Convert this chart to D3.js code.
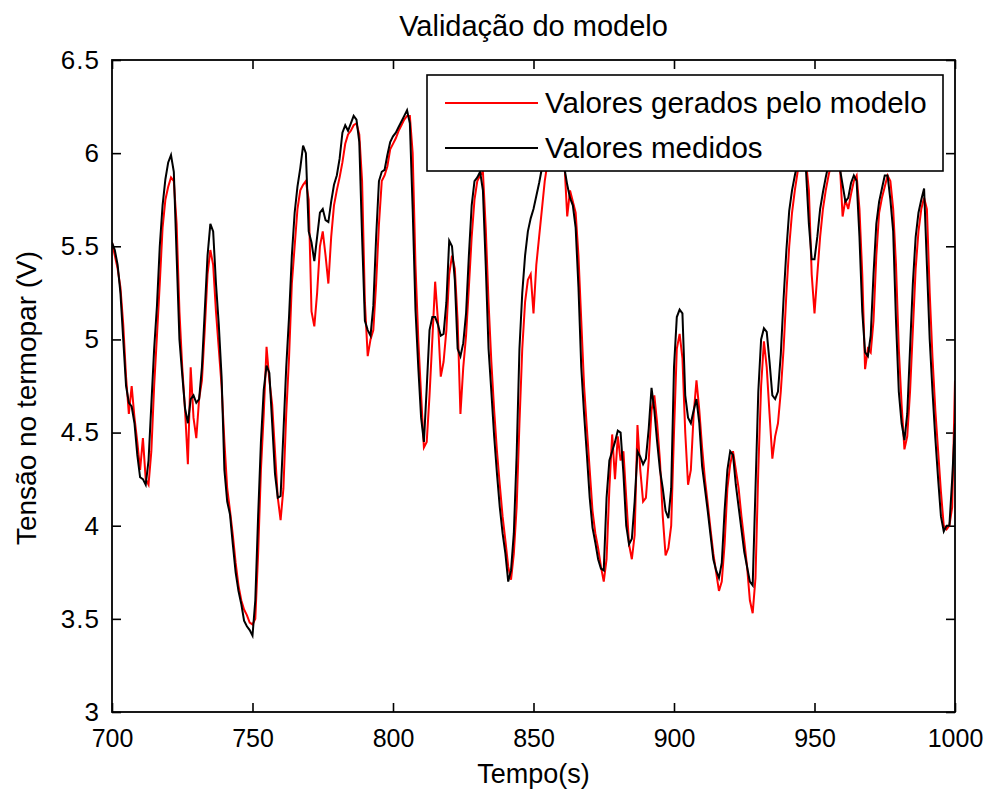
<!DOCTYPE html>
<html>
<head>
<meta charset="utf-8">
<script src="https://cdn.jsdelivr.net/npm/d3@7"></script>
<style>
  html, body { margin: 0; padding: 0; background: #fff; }
  svg { display: block; }
  text { font-family: "Liberation Sans", Arial, Helvetica, sans-serif; fill: #000; }
</style>
</head>
<body>
<svg id="chart" width="987" height="791"></svg>
<script>
// Sampling grid: one sample per second
const tStart = 700;
const tEnd = 1000;

// Thermocouple voltage (V), measured
const medidos = [
  5.52, 5.48, 5.40, 5.25, 5.00, 4.75, 4.66, 4.64, 4.55, 4.38, 4.26, 4.25, 4.22, 4.35, 4.65, 4.95, 5.18, 5.50,
  5.72, 5.86, 5.95, 5.99, 5.90, 5.45, 5.00, 4.81, 4.63, 4.55, 4.68, 4.70, 4.66, 4.68, 4.85, 5.15, 5.45, 5.62,
  5.58, 5.30, 5.08, 4.80, 4.30, 4.13, 4.06, 3.90, 3.75, 3.65, 3.58, 3.49, 3.46, 3.44, 3.41, 3.60, 4.05, 4.45,
  4.73, 4.86, 4.82, 4.55, 4.28, 4.15, 4.16, 4.50, 4.85, 5.12, 5.45, 5.68, 5.82, 5.92, 6.04, 6.00, 5.58, 5.52,
  5.42, 5.55, 5.68,
  5.70, 5.64, 5.63, 5.74, 5.83, 5.88, 5.97, 6.11, 6.15, 6.12, 6.16, 6.20, 6.18, 6.06, 5.55, 5.10, 5.05, 5.02,
  5.18, 5.55, 5.85, 5.90, 5.91, 5.99, 6.06, 6.09, 6.11, 6.14, 6.17, 6.20, 6.23, 6.16, 5.70, 5.16, 4.85, 4.58,
  4.45,
  4.74, 5.05, 5.12, 5.12, 5.08, 5.02, 5.03, 5.20, 5.53, 5.50, 5.32, 4.95, 4.91, 4.98, 5.14, 5.45, 5.72, 5.85,
  5.87, 5.90, 5.80, 5.40, 4.95, 4.72, 4.48, 4.28, 4.10, 3.96, 3.85, 3.70, 3.76, 3.96, 4.38, 4.95, 5.25, 5.45,
  5.58,
  5.65, 5.70, 5.77, 5.84, 5.92, 6.00, 6.06, 6.10, 6.12, 6.10, 6.05, 5.98, 5.92, 5.83, 5.76, 5.72, 5.60, 5.28,
  4.85, 4.60, 4.38, 4.15, 3.99, 3.91, 3.82, 3.77, 3.76, 4.15, 4.35, 4.40, 4.45, 4.51, 4.50, 4.28, 4.00, 3.90,
  3.93, 4.13,
  4.40, 4.37, 4.33, 4.36, 4.52, 4.74, 4.62, 4.45, 4.30, 4.20, 4.08, 4.04, 4.20, 4.85, 5.12, 5.16, 5.14, 4.70,
  4.58, 4.55, 4.62, 4.68, 4.55, 4.32, 4.20, 4.08, 3.95, 3.82, 3.76, 3.72, 3.80, 4.08, 4.30, 4.40, 4.38, 4.22,
  4.10, 3.98, 3.86, 3.78, 3.70, 3.68, 4.20, 4.72, 5.00, 5.06, 5.04, 4.88, 4.70, 4.68, 4.72, 4.92, 5.22, 5.48,
  5.69, 5.80, 5.88, 5.95, 6.00, 5.98, 5.90, 5.62, 5.43, 5.43, 5.55, 5.70, 5.79, 5.87, 5.94, 6.00, 6.02, 5.98,
  5.92, 5.83,
  5.74, 5.76, 5.84, 5.88, 5.85, 5.55, 5.15, 4.93, 4.91, 5.02, 5.35, 5.62, 5.74, 5.81, 5.88, 5.88, 5.75, 5.58,
  5.10, 4.72, 4.55, 4.46, 4.60, 4.95, 5.30, 5.55, 5.68, 5.75, 5.81, 5.40, 5.00, 4.72, 4.47, 4.25, 4.05, 3.97,
  4.00, 4.00, 4.25, 4.55
];

// Thermocouple voltage (V), model output
const modelo = [
  5.52, 5.45, 5.38, 5.28, 5.08, 4.80, 4.60, 4.75, 4.58, 4.45, 4.30, 4.47, 4.25, 4.22, 4.40, 4.75, 5.02, 5.30,
  5.60, 5.75, 5.82, 5.87, 5.85, 5.62, 5.15, 4.85, 4.62, 4.33, 4.85, 4.58, 4.47, 4.68, 4.78, 5.05, 5.35, 5.48,
  5.40, 5.15, 4.95, 4.75, 4.45, 4.20, 4.08, 3.95, 3.80, 3.68, 3.60, 3.55, 3.52, 3.48, 3.47, 3.50, 3.85, 4.30,
  4.60, 4.96, 4.78, 4.65, 4.40, 4.15, 4.03, 4.20, 4.60, 4.90, 5.30, 5.50, 5.70, 5.80, 5.83, 5.85, 5.75, 5.15,
  5.07, 5.25, 5.50,
  5.58, 5.45, 5.30, 5.55, 5.72, 5.80, 5.87, 5.95, 6.05, 6.10, 6.12, 6.15, 6.16, 6.10, 5.85, 5.20, 4.91, 5.00,
  5.05, 5.30, 5.62, 5.85, 5.88, 5.93, 6.02, 6.05, 6.08, 6.12, 6.15, 6.18, 6.20, 6.20, 6.00, 5.40, 5.00, 4.70,
  4.42,
  4.45, 4.70, 5.00, 5.31, 5.10, 4.80, 4.88, 5.05, 5.35, 5.45, 5.38, 5.10, 4.60, 4.85, 5.02, 5.28, 5.55, 5.75,
  5.85, 5.88, 5.90, 5.60, 5.20, 4.88, 4.62, 4.40, 4.22, 4.05, 3.92, 3.78, 3.71, 3.85, 4.10, 4.55, 4.95, 5.20,
  5.32,
  5.35, 5.14, 5.40, 5.55, 5.70, 5.85, 5.95, 6.03, 6.08, 6.10, 6.08, 6.03, 5.95, 5.66, 5.80, 5.74, 5.68, 5.45,
  5.10, 4.75, 4.52, 4.30, 4.08, 3.96, 3.88, 3.78, 3.70, 3.82, 4.20, 4.49, 4.25, 4.48, 4.35, 4.40, 4.15, 3.90,
  3.82, 3.95,
  4.54, 4.30, 4.13, 4.15, 4.35, 4.62, 4.70, 4.55, 4.35, 4.05, 3.84, 3.88, 4.00, 4.50, 4.95, 5.03, 4.90, 4.50,
  4.22, 4.30, 4.60, 4.78, 4.62, 4.42, 4.25, 4.12, 3.98, 3.85, 3.75, 3.65, 3.70, 3.90, 4.20, 4.33, 4.40, 4.30,
  4.20, 4.05, 3.92, 3.78, 3.60, 3.53, 3.72, 4.30, 4.75, 4.99, 4.85, 4.60, 4.36, 4.48, 4.55, 4.72, 4.95, 5.25,
  5.50, 5.68, 5.80, 5.90, 5.98, 6.00, 5.95, 5.80, 5.35, 5.14, 5.35, 5.55, 5.70, 5.80, 5.88, 5.95, 6.00, 6.02,
  5.95, 5.66,
  5.75, 5.70, 5.78, 5.85, 5.88, 5.70, 5.35, 4.84, 4.95, 4.93, 5.10, 5.45, 5.68, 5.76, 5.82, 5.88, 5.85, 5.70,
  5.40, 4.95, 4.65, 4.41, 4.48, 4.72, 5.05, 5.38, 5.58, 5.70, 5.76, 5.70, 5.25, 4.90, 4.62, 4.40, 4.18, 4.00,
  3.98, 4.00, 4.10, 4.78
];

const xTicks = [700, 750, 800, 850, 900, 950, 1000];
const yTicks = [3, 3.5, 4, 4.5, 5, 5.5, 6, 6.5];

const titulo = "Validação do modelo";
const rotuloX = "Tempo(s)";
const rotuloY = "Tensão no termopar (V)";
const legendas = ["Valores gerados pelo modelo", "Valores medidos"];
const cores = ["#ff0000", "#000000"];

// Plot frame
const frame = { left: 112, right: 955, top: 60, bottom: 712 };

const svg = d3.select("#chart");

const x = d3.scaleLinear().domain([tStart, tEnd]).range([frame.left, frame.right]);
const y = d3.scaleLinear().domain([3, 6.5]).range([frame.bottom, frame.top]);

svg.append("defs").append("clipPath").attr("id", "plotArea")
  .append("rect")
  .attr("x", frame.left).attr("y", frame.top)
  .attr("width", frame.right - frame.left).attr("height", frame.bottom - frame.top);

// Title
svg.append("text")
  .attr("x", (frame.left + frame.right) / 2)
  .attr("y", 36)
  .attr("text-anchor", "middle")
  .style("font-size", "29px")
  .text(titulo);

// Axes (ticks point inward, MATLAB style)
const tickLen = 9;

const gx = svg.append("g")
  .attr("transform", `translate(0,${frame.bottom})`)
  .call(d3.axisBottom(x).tickValues(xTicks).tickFormat(d3.format("d"))
    .tickSizeInner(-tickLen).tickSizeOuter(0).tickPadding(17));

const gxTop = svg.append("g")
  .attr("transform", `translate(0,${frame.top})`)
  .call(d3.axisTop(x).tickValues(xTicks).tickFormat("")
    .tickSizeInner(-tickLen).tickSizeOuter(0));

const gy = svg.append("g")
  .attr("transform", `translate(${frame.left},0)`)
  .call(d3.axisLeft(y).tickValues(yTicks).tickFormat(d => String(d))
    .tickSizeInner(-tickLen).tickSizeOuter(0).tickPadding(12));

const gyRight = svg.append("g")
  .attr("transform", `translate(${frame.right},0)`)
  .call(d3.axisRight(y).tickValues(yTicks).tickFormat("")
    .tickSizeInner(-tickLen).tickSizeOuter(0));

[gx, gxTop, gy, gyRight].forEach(g => {
  g.select(".domain").remove();
  g.selectAll(".tick line").attr("stroke", "#000").attr("stroke-width", 1.6);
  g.selectAll(".tick text")
    .style("font-family", '"Liberation Sans", Arial, sans-serif')
    .style("font-size", "25px")
    .attr("fill", "#000");
});
gy.selectAll(".tick text").style("font-size", "26px").style("letter-spacing", "1px");

// Axis labels
svg.append("text")
  .attr("x", (frame.left + frame.right) / 2)
  .attr("y", 783)
  .attr("text-anchor", "middle")
  .style("font-size", "27px")
  .text(rotuloX);

svg.append("text")
  .attr("transform", `translate(36,398) rotate(-90)`)
  .attr("text-anchor", "middle")
  .style("font-size", "28px")
  .text(rotuloY);

// Series
const line = d3.line()
  .x((d, i) => x(tStart + i))
  .y(d => y(d));

const plot = svg.append("g").attr("clip-path", "url(#plotArea)");

[modelo, medidos].forEach((serie, k) => {
  plot.append("path")
    .datum(serie)
    .attr("fill", "none")
    .attr("stroke", cores[k])
    .attr("stroke-width", 2)
    .attr("stroke-linejoin", "miter")
    .attr("d", line);
});

// Axes box
svg.append("rect")
  .attr("x", frame.left).attr("y", frame.top)
  .attr("width", frame.right - frame.left).attr("height", frame.bottom - frame.top)
  .attr("fill", "none")
  .attr("stroke", "#000")
  .attr("stroke-width", 1.8);

// Legend
const lg = svg.append("g");
lg.append("rect")
  .attr("x", 427).attr("y", 75)
  .attr("width", 516).attr("height", 96)
  .attr("fill", "#fff")
  .attr("stroke", "#000")
  .attr("stroke-width", 1.6);

legendas.forEach((nome, k) => {
  const cy = 103 + k * 45;
  lg.append("line")
    .attr("x1", 445).attr("x2", 538)
    .attr("y1", cy).attr("y2", cy)
    .attr("stroke", cores[k])
    .attr("stroke-width", 2);
  lg.append("text")
    .attr("x", 545)
    .attr("y", cy + 10)
    .style("font-size", "29.5px")
    .text(nome);
});
</script>
</body>
</html>
